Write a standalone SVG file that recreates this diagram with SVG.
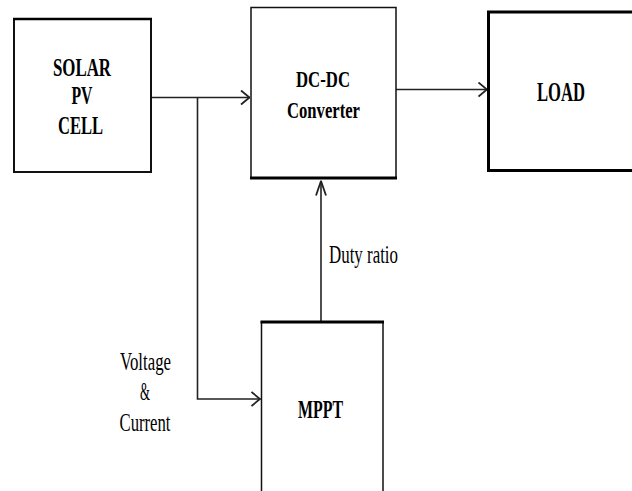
<svg xmlns="http://www.w3.org/2000/svg" width="632" height="491" viewBox="0 0 632 491">
<style>
.box{fill:#fff;stroke:#111;stroke-width:1.5}
.thick{stroke:#000;stroke-width:3;fill:none}
.lbl{font-family:"Liberation Serif","Times New Roman",serif;font-weight:bold;font-size:24.5px;fill:#000;text-anchor:middle}
.lblr{font-family:"Liberation Serif","Times New Roman",serif;font-size:25px;fill:#000;text-anchor:middle}
.conn{stroke:#222;stroke-width:1.6;fill:none}
</style>
<defs>
<marker id="arr" viewBox="0 0 10 16" refX="10" refY="8" markerWidth="10" markerHeight="16" markerUnits="userSpaceOnUse" orient="auto">
<path d="M1,1 L9.5,8 L1,15" fill="none" stroke="#222" stroke-width="1.8"/>
</marker>
<marker id="arrUp" viewBox="0 0 16 12" refX="16" refY="6" markerWidth="16" markerHeight="12" markerUnits="userSpaceOnUse" orient="auto">
<path d="M1,1 L15.5,6 L1,11" fill="none" stroke="#222" stroke-width="1.8"/>
</marker>
</defs>
<rect width="632" height="491" fill="#fff"/>
<g id="connectors">
<path class="conn" d="M151,97.5 H250" marker-end="url(#arr)"/>
<path class="conn" d="M197.5,97.5 V399 H260.5" marker-end="url(#arr)"/>
<path class="conn" d="M396,89.5 H487.5" marker-end="url(#arr)"/>
<path class="conn" d="M321,321 V180.5" marker-end="url(#arrUp)"/>
<text class="lblr" x="363.5" y="263" textLength="69" lengthAdjust="spacingAndGlyphs">Duty ratio</text>
<text class="lblr" x="145.5" y="369.5" textLength="51" lengthAdjust="spacingAndGlyphs">Voltage</text>
<text class="lblr" x="145" y="400" textLength="10" lengthAdjust="spacingAndGlyphs">&amp;</text>
<text class="lblr" x="145" y="430.5" textLength="51" lengthAdjust="spacingAndGlyphs">Current</text>
</g>
<g id="solar">
<rect class="box" x="14" y="19" width="137" height="153" style="stroke-width:2"/>
<line class="thick" x1="13" y1="19" x2="152" y2="19" style="stroke-width:2.5"/>
<text class="lbl" x="82" y="76" textLength="58" lengthAdjust="spacingAndGlyphs">SOLAR</text>
<text class="lbl" x="82" y="104" textLength="21" lengthAdjust="spacingAndGlyphs">PV</text>
<text class="lbl" x="80.5" y="134" textLength="45" lengthAdjust="spacingAndGlyphs">CELL</text>
</g>
<g id="dcdc">
<rect class="box" x="251" y="7.5" width="145" height="170.5"/>
<line class="thick" x1="250" y1="178" x2="397" y2="178"/>
<text class="lbl" x="323" y="87" textLength="54" lengthAdjust="spacingAndGlyphs" style="font-size:23.5px">DC-DC</text>
<text class="lbl" x="323.5" y="117.5" textLength="73" lengthAdjust="spacingAndGlyphs" style="font-size:23.5px">Converter</text>
</g>
<g id="load">
<rect class="box" x="488.5" y="12" width="160" height="158.5"/>
<path class="thick" d="M640,12 H488.5 V170.5 H640"/>
<text class="lbl" x="561" y="101" textLength="48" lengthAdjust="spacingAndGlyphs" style="font-size:27px">LOAD</text>
</g>
<g id="mppt">
<rect class="box" x="261.5" y="322" width="121.5" height="190"/>
<line class="thick" x1="260.5" y1="322" x2="384" y2="322"/>
<text class="lbl" x="320.5" y="418" textLength="45" lengthAdjust="spacingAndGlyphs">MPPT</text>
</g>
</svg>
